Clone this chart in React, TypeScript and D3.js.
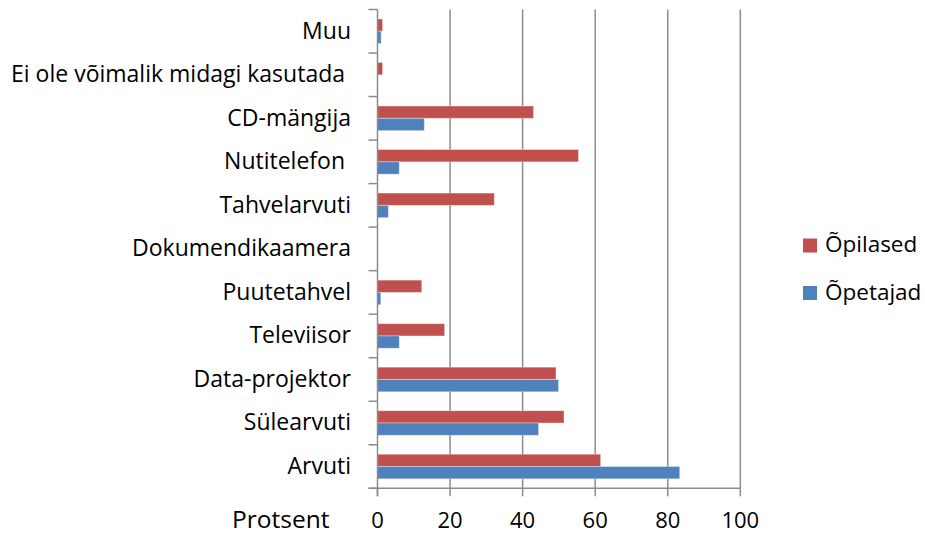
import React from "react";
import * as d3 from "d3";

const categories = [
  "Muu",
  "Ei ole võimalik midagi kasutada ",
  "CD-mängija",
  "Nutitelefon ",
  "Tahvelarvuti",
  "Dokumendikaamera",
  "Puutetahvel",
  "Televiisor",
  "Data-projektor",
  "Sülearvuti",
  "Arvuti",
];
const seriesNames = ["Õpilased", "Õpetajad"];
const opilased = [1.4, 1.4, 43.0, 55.4, 32.2, 0, 12.2, 18.5, 49.2, 51.4, 61.5];
const opetajad = [1.0, 0, 12.9, 6.0, 3.0, 0, 0.9, 6.0, 49.9, 44.4, 83.3];
const xTicks = [0, 20, 40, 60, 80, 100];
const colors = ["#C0504D", "#4F81BD"];
const axisTitle = "Protsent";

const W = 925;
const H = 535;
const FONT = "'Open Sans', sans-serif";

export default function App() {
  const x = d3.scaleLinear().domain([0, 100]).range([377.5, 740.3]);
  const y = d3.scaleBand<string>().domain(categories).range([9.5, 488.3]).padding(0);
  const sub = d3
    .scaleBand<string>()
    .domain(seriesNames)
    .range([0, y.bandwidth()])
    .paddingInner(0)
    .paddingOuter(0.77);
  const values = [opilased, opetajad];
  const gridColor = "#8C8C8C";
  const x0 = x(0);
  const yTop = y.range()[0];
  const yBot = y.range()[1];

  return (
    <svg
      width={W}
      height={H}
      style={{ position: "absolute", left: 0, top: 0, background: "#fff" }}
      fontFamily={FONT}
    >
      {xTicks.slice(1).map((t) => (
        <line key={"g" + t} x1={x(t)} x2={x(t)} y1={yTop} y2={yBot} stroke={gridColor} strokeWidth={1.5} />
      ))}
      {categories.map((c, i) =>
        seriesNames.map((s, k) => {
          const v = values[k][i];
          if (!v) return null;
          return (
            <rect
              key={c + s}
              x={x0}
              y={(y(c) as number) + (sub(s) as number)}
              width={x(v) - x0}
              height={sub.bandwidth()}
              fill={colors[k]}
              stroke="rgba(255,255,255,0.35)"
              strokeWidth={1}
            />
          );
        })
      )}
      <line x1={x0} x2={x0} y1={yTop} y2={yBot + 8} stroke={gridColor} strokeWidth={1.5} />
      {categories.concat([""]).map((c, i) => {
        const yy = i < categories.length ? (y(c) as number) : yBot;
        return <line key={"yt" + i} x1={x0 - 9} x2={x0} y1={yy} y2={yy} stroke={gridColor} strokeWidth={1.5} />;
      })}
      <line x1={x0 - 9} x2={x(100)} y1={yBot} y2={yBot} stroke={gridColor} strokeWidth={1.5} />
      {xTicks.map((t) => (
        <line key={"xt" + t} x1={x(t)} x2={x(t)} y1={yBot} y2={yBot + 8} stroke={gridColor} strokeWidth={1.5} />
      ))}
      {xTicks.map((t) => (
        <text key={"xl" + t} x={x(t)} y={528} textAnchor="middle" fontSize={22} fill="#000">
          {t}
        </text>
      ))}
      <text x={232} y={528} fontSize={24.5} fill="#000">
        {axisTitle}
      </text>
      {categories.map((c) => (
        <text
          key={"cl" + c}
          x={351}
          y={(y(c) as number) + y.bandwidth() / 2}
          dy="0.32em"
          textAnchor="end"
          fontSize={23}
          fill="#000"
          style={{ whiteSpace: "pre" }}
        >
          {c}
        </text>
      ))}
      {seriesNames.map((s, k) => (
        <g key={"lg" + s} transform={`translate(803, ${238.5 + k * 47.5})`}>
          <rect width={14} height={14} fill={colors[k]} />
          <text x={22} y={13.5} fontSize={22.5} fill="#000">
            {s}
          </text>
        </g>
      ))}
    </svg>
  );
}
